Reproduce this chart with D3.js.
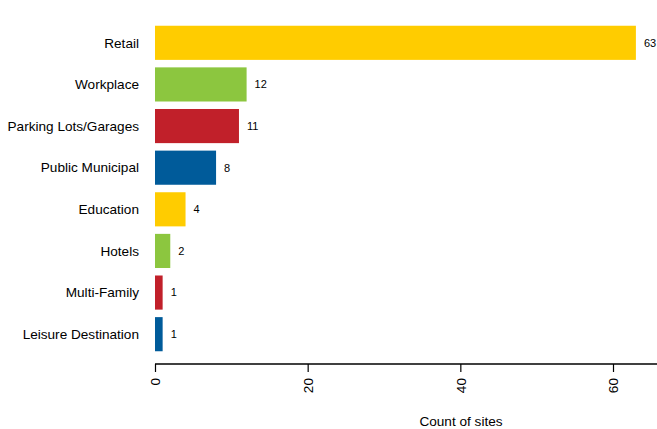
<!DOCTYPE html>
<html>
<head>
<meta charset="utf-8">
<script src="https://cdn.jsdelivr.net/npm/d3@7"></script>
<style>
  body { margin: 0; background: white; }
  text { font-family: "Liberation Sans", Arial, sans-serif; fill: #000; }
</style>
</head>
<body>
<div id="chart"></div>
<script>
// chart data
const categories = ["Retail", "Workplace", "Parking Lots/Garages", "Public Municipal",
                    "Education", "Hotels", "Multi-Family", "Leisure Destination"];
const counts = [63, 12, 11, 8, 4, 2, 1, 1];
const barColors = ["#FFCC00", "#8CC63F", "#C1202A", "#005B9A"];
const xTicks = [0, 20, 40, 60];

const width = 657, height = 429;

const svg = d3.select("#chart").append("svg")
    .attr("width", width)
    .attr("height", height);

const x = d3.scaleLinear()
    .domain([0, 60])
    .range([155, 613]);

const y = d3.scaleBand()
    .domain(categories)
    .range([22, 355])
    .paddingInner(0.18)
    .paddingOuter(0.09);

// bars
svg.append("g").selectAll("rect")
    .data(categories)
    .enter()
    .append("rect")
    .attr("x", x(0))
    .attr("y", d => y(d))
    .attr("width", (d, i) => x(counts[i]) - x(0))
    .attr("height", y.bandwidth())
    .attr("fill", (d, i) => barColors[i % barColors.length]);

// value labels
svg.append("g").selectAll("text")
    .data(categories)
    .enter()
    .append("text")
    .attr("x", (d, i) => x(counts[i]) + 8)
    .attr("y", d => y(d) + y.bandwidth() / 2)
    .attr("dy", "0.35em")
    .attr("font-size", "11px")
    .text((d, i) => counts[i]);

// category labels
svg.append("g").selectAll("text")
    .data(categories)
    .enter()
    .append("text")
    .attr("x", 139)
    .attr("y", d => y(d) + y.bandwidth() / 2)
    .attr("dy", "0.35em")
    .attr("text-anchor", "end")
    .attr("font-size", "13.6px")
    .text(d => d);

// x axis
const axisY = 364;
const xAxis = svg.append("g")
    .attr("transform", "translate(0," + axisY + ")")
    .call(d3.axisBottom(x).tickValues(xTicks).tickSize(8).tickSizeOuter(0));

xAxis.select(".domain")
    .attr("d", "M" + x(0) + ",0H" + width)
    .attr("stroke", "#000")
    .attr("stroke-width", 1.5);
xAxis.selectAll(".tick line").attr("stroke", "#000").attr("stroke-width", 1.2);
xAxis.selectAll(".tick text")
    .attr("font-family", "Liberation Sans, Arial, sans-serif")
    .attr("font-size", "13.6px")
    .attr("fill", "#000")
    .attr("transform", "rotate(-90)")
    .attr("text-anchor", "end")
    .attr("x", -14)
    .attr("y", 0)
    .attr("dy", "0.35em");

// axis title
svg.append("text")
    .attr("x", 461)
    .attr("y", 426)
    .attr("text-anchor", "middle")
    .attr("font-size", "13.6px")
    .text("Count of sites");
</script>
</body>
</html>
